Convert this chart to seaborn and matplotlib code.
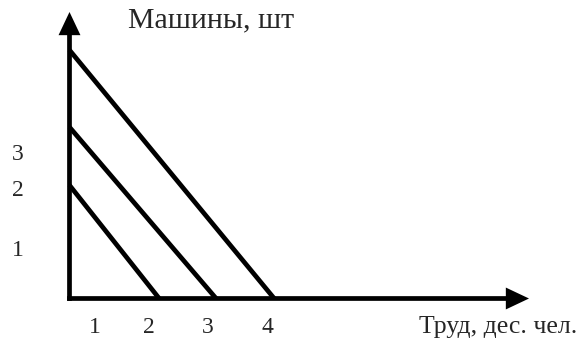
import matplotlib
matplotlib.use("Agg")
import matplotlib.pyplot as plt
import seaborn as sns
import pandas as pd

# Isoquant-style budget lines: machines (vertical intercept) vs labour (horizontal intercept)
line_ids = ["A", "B", "C"]
machines_intercepts = [1.97, 2.98, 4.32]
labour_intercepts = [1.56, 2.55, 3.56]

x_tick_labels = ["1", "2", "3", "4"]
y_tick_labels = ["1", "2", "3"]

y_axis_title = "Машины, шт"
x_axis_title = "Труд, дес. чел."

# positions of the hand-placed tick captions along each axis (axis units)
x_tick_pos = [0.44, 1.38, 2.41, 3.45]
y_tick_pos = [0.90, 1.95, 2.57]

rows = []
for lid, m, l in zip(line_ids, machines_intercepts, labour_intercepts):
    rows.append({"line": lid, "labour": 0.0, "machines": m})
    rows.append({"line": lid, "labour": l, "machines": 0.0})
df = pd.DataFrame(rows)

sns.set_style("white")
plt.rcParams["font.family"] = ["Liberation Serif", "DejaVu Serif"]

W, H, DPI = 582, 342, 100
UNIT = 57.5          # pixels per axis unit
ORIGIN_X = 69.5      # pixel column of the vertical axis
ORIGIN_Y = 298.5     # pixel row (from top) of the horizontal axis

fig = plt.figure(figsize=(W / DPI, H / DPI), dpi=DPI)
ax = fig.add_axes([0, 0, 1, 1])
ax.set_xlim(-ORIGIN_X / UNIT, (W - ORIGIN_X) / UNIT)
ax.set_ylim(-(H - ORIGIN_Y) / UNIT, ORIGIN_Y / UNIT)
ax.axis("off")

LW = 3.4
sns.lineplot(data=df, x="labour", y="machines", units="line", estimator=None,
             color="black", linewidth=LW, ax=ax, legend=False,
             solid_capstyle="butt")

# axes with arrow heads
half = (LW / 72 * DPI / 2) / UNIT   # half the stroke width in axis units
arrow = dict(arrowstyle="-|>,head_length=0.55,head_width=0.26", lw=LW,
             color="black", shrinkA=0, shrinkB=0, mutation_scale=20,
             joinstyle="miter", capstyle="butt")
y_top = (ORIGIN_Y - 12) / UNIT
x_right = (529 - ORIGIN_X) / UNIT
ax.annotate("", xy=(0, y_top), xytext=(0, -half), arrowprops=arrow)
ax.annotate("", xy=(x_right, 0), xytext=(-half, 0), arrowprops=arrow)

FS = 17
for p, t in zip(x_tick_pos, x_tick_labels):
    ax.text(p, (ORIGIN_Y - 333) / UNIT, t, ha="center", va="baseline", fontsize=FS)
for p, t in zip(y_tick_pos, y_tick_labels):
    ax.text((18 - ORIGIN_X) / UNIT, p - 0.16, t, ha="center", va="baseline", fontsize=FS)

ax.text((128 - ORIGIN_X) / UNIT, (ORIGIN_Y - 27) / UNIT, y_axis_title,
        ha="left", va="baseline", fontsize=21.5)
ax.text((419 - ORIGIN_X) / UNIT, (ORIGIN_Y - 333) / UNIT, x_axis_title,
        ha="left", va="baseline", fontsize=18.5)

fig.savefig("out.png", dpi=DPI, facecolor="white")
